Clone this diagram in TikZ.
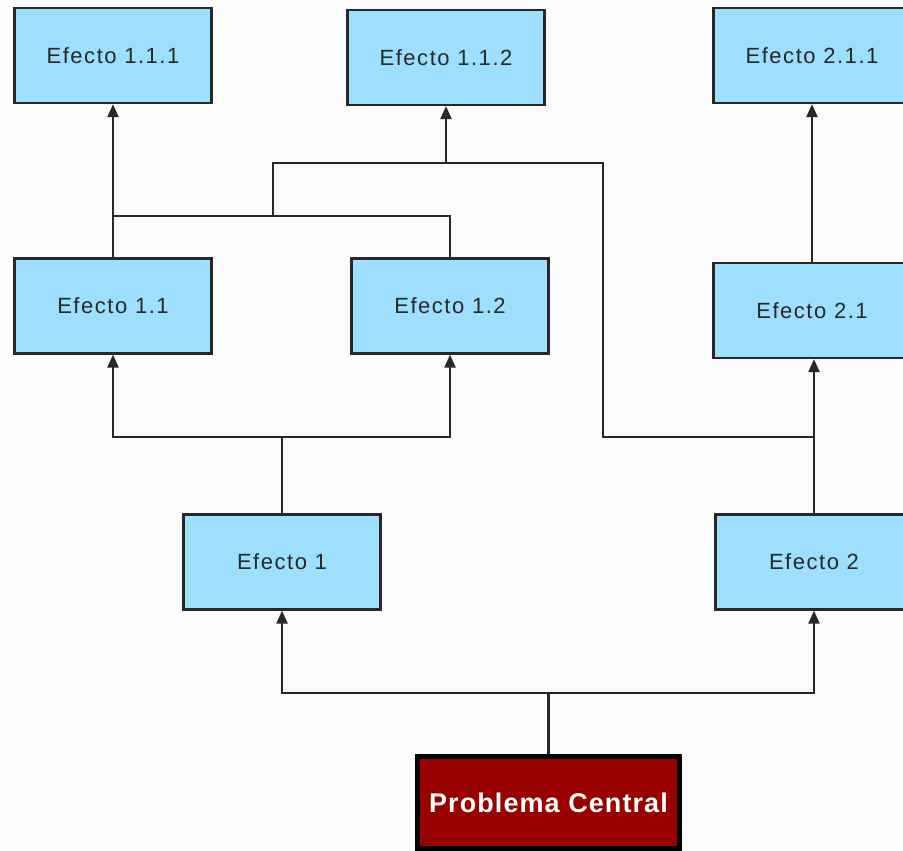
\documentclass[tikz,border=0pt]{standalone}
\usepackage{fontspec}
\setmainfont{Liberation Sans}
\newfontfamily\fuentecaja[LetterSpace=7]{Liberation Sans}
\newfontfamily\fuentecentral[LetterSpace=4]{Liberation Sans}
\usetikzlibrary{arrows.meta, positioning}

\definecolor{celeste}{RGB}{158,223,255}
\definecolor{granate}{RGB}{153,0,0}
\definecolor{trazo}{RGB}{40,40,40}

\begin{document}
\begin{tikzpicture}[x=1pt,y=-1pt,
    efecto/.style={draw=trazo, line width=2.2pt, fill=celeste, minimum width=197pt,
      minimum height=95pt, inner sep=0pt, text=trazo,
      font=\fuentecaja\fontsize{22}{26}\selectfont},
    problema/.style={draw=black, line width=5pt, fill=granate, minimum width=262pt,
      minimum height=92pt, inner sep=0pt, text=white,
      font=\fuentecentral\bfseries\fontsize{27}{31}\selectfont},
    linea/.style={draw=trazo, line width=2.2pt},
    flecha/.style={-{Triangle[length=13pt,width=11pt]}}]
  \clip (0,0) rectangle (903,851);
  \fill[white!99!black] (0,0) rectangle (903,851);

  % cajas
  \node[efecto] (e111) at (113,55.5) {Efecto 1.1.1};
  \node[efecto] (e112) at (446,57.5) {Efecto 1.1.2};
  \node[efecto] (e211) at (812,55.5) {Efecto 2.1.1};
  \node[efecto] (e11)  at (113,306) {Efecto 1.1};
  \node[efecto] (e12)  at (450,306) {Efecto 1.2};
  \node[efecto] (e21)  at (812,310.5) {Efecto 2.1};
  \node[efecto] (e1)   at (282,562) {Efecto 1};
  \node[efecto] (e2)   at (814,562) {Efecto 2};
  \node[problema] (pc) at (548.5,802.5) {Problema Central};

  % uniones
  \coordinate (j0) at (pc.north |- 0,693);
  \coordinate (j1) at (e1.north |- 0,437);
  \coordinate (j2) at (e11.north |- 0,216);
  \coordinate (j3) at (273,216);
  \coordinate (j5) at (603,163);
  \coordinate (j4) at (603,437);

  \draw[linea] (pc.north) -- (j0);
  \draw[linea,flecha] (j0) -| (e1.south);
  \draw[linea,flecha] (j0) -| (e2.south);

  \draw[linea] (e1.north) -- (j1);
  \draw[linea,flecha] (j1) -| (e11.south);
  \draw[linea,flecha] (j1) -| (e12.south);

  \draw[linea,flecha] (e11.north) -- (e111.south);
  \draw[linea] (j2) -| (e12.north);
  \draw[linea] (j3) |- (j5) -- (j4) -- (j4 -| e2.north);
  \draw[linea,flecha] (e112.south |- j5) -- (e112.south);

  \draw[linea,flecha] (e2.north) -- (e2.north |- e21.south);
  \draw[linea,flecha] (e21.north) -- (e21.north |- e211.south);
\end{tikzpicture}
\end{document}
